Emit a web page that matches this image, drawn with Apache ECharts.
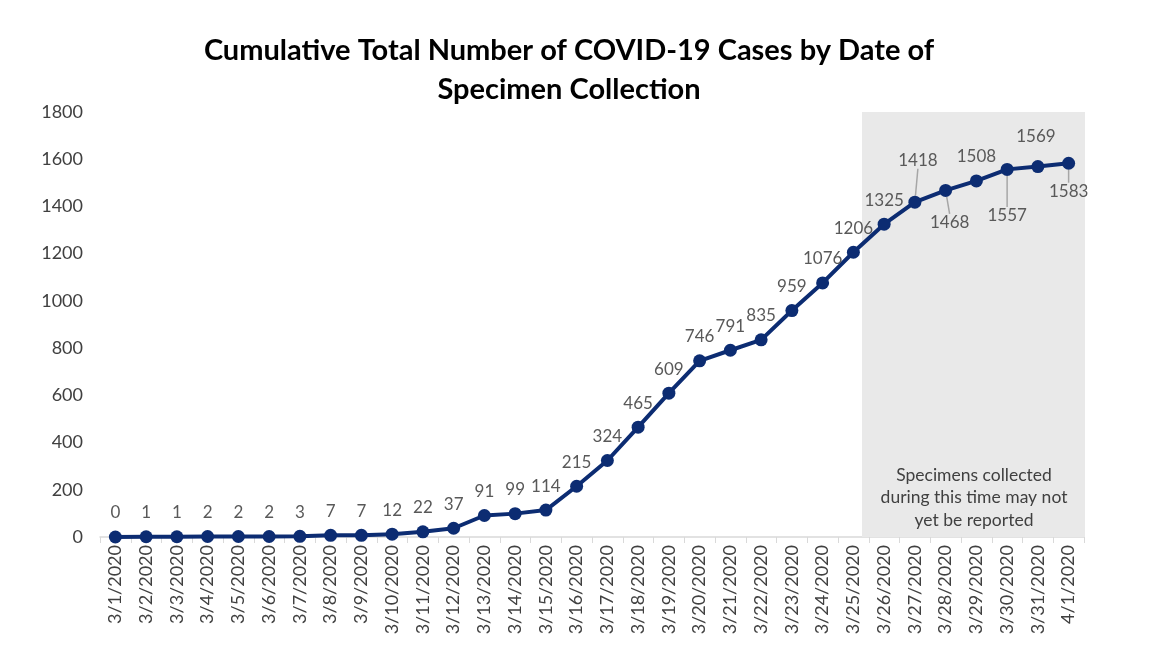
<!DOCTYPE html>
<html>
<head>
<meta charset="utf-8">
<script src="https://cdn.jsdelivr.net/npm/echarts@6/dist/echarts.min.js"></script>
<style>html,body{margin:0;padding:0;background:#fff;}#c{width:1165px;height:654px;}</style>
</head>
<body>
<div id="c"></div>
<script>
const categories = ['3/1/2020','3/2/2020','3/3/2020','3/4/2020','3/5/2020','3/6/2020','3/7/2020','3/8/2020','3/9/2020','3/10/2020','3/11/2020','3/12/2020','3/13/2020','3/14/2020','3/15/2020','3/16/2020','3/17/2020','3/18/2020','3/19/2020','3/20/2020','3/21/2020','3/22/2020','3/23/2020','3/24/2020','3/25/2020','3/26/2020','3/27/2020','3/28/2020','3/29/2020','3/30/2020','3/31/2020','4/1/2020'];
const cases = [0,1,1,2,2,2,3,7,7,12,22,37,91,99,114,215,324,465,609,746,791,835,959,1076,1206,1325,1418,1468,1508,1557,1569,1583];
const yTicks = {min:0, max:1800, interval:200};
const titleText = 'Cumulative Total Number of COVID-19 Cases by Date of\nSpecimen Collection';
const noteText = 'Specimens collected\nduring this time may not\nyet be reported';

// label placement adjustments (index -> [position, dx, dy, leader])
const labelAdjust = {26:['top',3,-18,true],27:['bottom',4,8,true],29:['bottom',0,22,true],30:['top',-2,-6,false],31:['bottom',0,4,true]};

const data = cases.map((v,i)=>{
  const a = labelAdjust[i];
  if (!a) return {value:v};
  return {value:v, label:{position:a[0]}, labelLine:{show:a[3]}};
});

const chart = echarts.init(document.getElementById('c'));
const font = 'Lato, "Noto Sans", sans-serif';
chart.setOption({
  animation:false,
  title:{text:titleText,left:564,textAlign:'center',top:26,textStyle:{fontFamily:font,fontWeight:'bold',fontSize:29,color:'#000',lineHeight:39}},
  grid:{left:100,right:81,top:112,bottom:117},
  xAxis:{type:'category',data:categories,boundaryGap:true,
    axisLine:{lineStyle:{color:'#d9d9d9',width:1.5}},
    axisTick:{show:true,length:6,lineStyle:{color:'#d9d9d9'}},
    axisLabel:{rotate:90,fontFamily:font,fontSize:18,color:'#404040',margin:8,interval:0}},
  yAxis:{type:'value',min:yTicks.min,max:yTicks.max,interval:yTicks.interval,
    splitLine:{show:false},axisLine:{show:false},axisTick:{show:false},
    axisLabel:{fontFamily:font,fontSize:18,color:'#404040',margin:17,formatter:function(v){return String(v);}}},
  series:[{
    type:'line',data:data,symbol:'circle',symbolSize:13,
    lineStyle:{color:'#0c2c72',width:4},itemStyle:{color:'#0c2c72'},
    label:{show:true,position:'top',distance:9,fontFamily:font,fontSize:17,color:'#595959'},
    labelLine:{show:false,lineStyle:{color:'#a6a6a6',width:1.5}},
    labelLayout:function(p){
      const a = labelAdjust[p.dataIndex];
      if (a) return {dx:a[1],dy:a[2]};
      return {};
    },
    z:3,
    markArea:{silent:true,itemStyle:{color:'#e9e9e9'},z:1,
      data:[[{x:862,y:112},{x:1085,y:537}]]}
  }],
  graphic:[{type:'text',x:974,y:464,z:10,style:{text:noteText,fontFamily:font,fontSize:17.5,fill:'#404040',align:'center',textAlign:'center',lineHeight:22.5}}]
});
</script>
</body>
</html>
